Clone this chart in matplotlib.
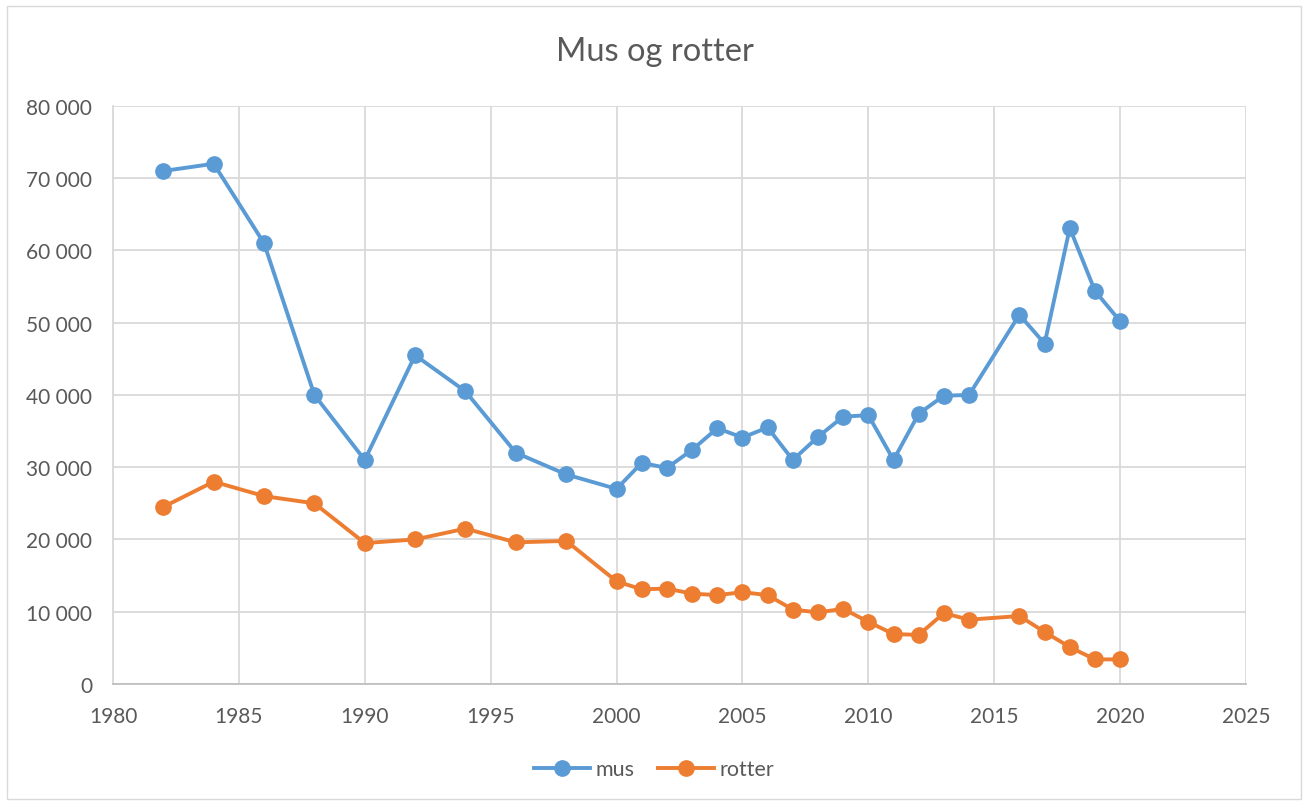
import matplotlib.pyplot as plt
from matplotlib.ticker import FuncFormatter, MultipleLocator
from matplotlib.patches import Rectangle

plt.rcParams['font.family'] = ['Lato', 'DejaVu Sans']

# data
years = [1982, 1984, 1986, 1988, 1990, 1992, 1994, 1996, 1998, 2000,
         2001, 2002, 2003, 2004, 2005, 2006, 2007, 2008, 2009, 2010,
         2011, 2012, 2013, 2014, 2016, 2017, 2018, 2019, 2020]
mus = [71000, 72000, 61000, 40000, 31000, 45500, 40500, 32000, 29000, 27000,
       30600, 29900, 32400, 35400, 34100, 35500, 31000, 34200, 37000, 37200,
       31000, 37400, 39900, 40000, 51100, 47100, 63100, 54400, 50200]
rotter = [24500, 28000, 26000, 25000, 19500, 20000, 21500, 19600, 19800, 14200,
          13100, 13200, 12500, 12300, 12700, 12300, 10300, 9900, 10400, 8600,
          6900, 6800, 9800, 8900, 9400, 7200, 5100, 3400, 3400]

text_col = '#595959'
grid_col = '#d9d9d9'

fig = plt.figure(figsize=(13.09, 8.03), dpi=100)
ax = fig.add_axes([0.0863, 0.147, 0.8656, 0.7198])

ax.plot(years, mus, color='#5B9BD5', lw=2.8, marker='o', ms=11, label='mus')
ax.plot(years, rotter, color='#ED7D31', lw=2.8, marker='o', ms=11, label='rotter')

ax.set_xlim(1980, 2025)
ax.set_ylim(0, 80000)
ax.xaxis.set_major_locator(MultipleLocator(5))
ax.yaxis.set_major_locator(MultipleLocator(10000))
ax.yaxis.set_major_formatter(FuncFormatter(lambda v, p: f'{int(v):,}'.replace(',', ' ')))

ax.grid(True, color=grid_col, lw=1.3)
ax.set_axisbelow(True)
for s in ['top', 'right']:
    ax.spines[s].set_visible(False)
ax.spines['left'].set_color(grid_col)
ax.spines['left'].set_linewidth(1.3)
ax.spines['bottom'].set_color('#bfbfbf')
ax.spines['bottom'].set_linewidth(1.3)
ax.tick_params(length=0, labelsize=15, colors=text_col)
ax.tick_params(axis='x', pad=16)
ax.tick_params(axis='y', pad=15)

fig.text(0.5, 0.935, 'Mus og rotter', ha='center', va='center', fontsize=23.5, color=text_col)

fig.legend(loc='center', bbox_to_anchor=(0.5, 0.041), ncol=2, frameon=False,
           fontsize=15.5, labelcolor=text_col, handlelength=2.6, columnspacing=1.1,
           handletextpad=0.25)

fig.patches.append(Rectangle((0.0053, 0.004), 0.9885, 0.987, transform=fig.transFigure,
                             fill=False, edgecolor='#d9d9d9', lw=1.0))

fig.savefig('out.png', dpi=100)
